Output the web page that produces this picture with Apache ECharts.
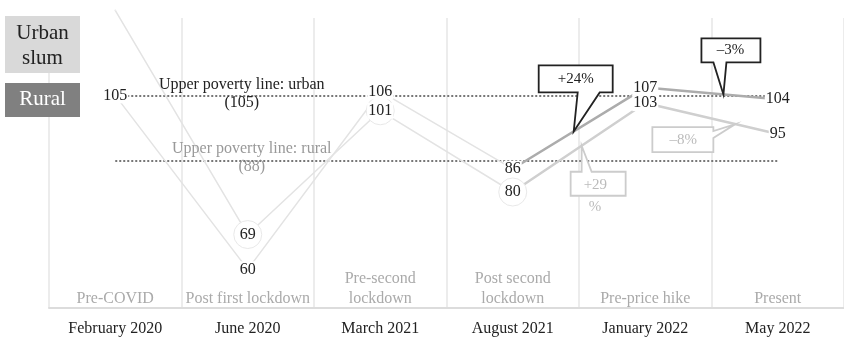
<!DOCTYPE html>
<html lang="en">
<head>
<meta charset="UTF-8">
<title>Poverty line</title>
<style>
  body { margin: 0; background: #fff; }
  #main { width: 844px; height: 338px; }
</style>
</head>
<body>
<div id="main"></div>
<script src="https://cdn.jsdelivr.net/npm/echarts@6/dist/echarts.min.js"></script>
<script>
var months = ['February 2020', 'June 2020', 'March 2021', 'August 2021', 'January 2022', 'May 2022'];
var phases = ['Pre-COVID', 'Post first lockdown', 'Pre-second\nlockdown', 'Post second\nlockdown', 'Pre-price hike', 'Present'];
var rural = [105, 60, 106, 86, 107, 104];
var urbanSlum = [127, 69, 101, 80, 103, 95];
var povertyUrban = 105;
var povertyRural = 88;
var splitAt = 3; // from August 2021 on the lines are drawn darker
var circled = [1, 2, 3]; // urban points that get a ring

var serif = 'Liberation Serif';

function early(arr) { return arr.map(function (v, i) { return i <= splitAt ? v : '-'; }); }
function late(arr) { return arr.map(function (v, i) { return i >= splitAt ? v : '-'; }); }

function valueLabel(skip) {
    return {
        show: true, position: 'inside', color: '#222',
        fontFamily: serif, fontSize: 16,
        backgroundColor: '#fff', padding: [0, 1],
        formatter: function (p) { return p.dataIndex === skip ? '' : p.value; }
    };
}
// labels need a symbol to hang on, so use an invisible one
var hidden = { symbol: 'circle', symbolSize: 1, showSymbol: true, itemStyle: { color: 'rgba(0,0,0,0)' } };

var chart = echarts.init(document.getElementById('main'));
chart.setOption({
    animation: false,
    grid: { left: 49, right: -3, top: 18, bottom: 30 },
    xAxis: [{
        type: 'category',
        data: months,
        boundaryGap: true,
        axisLine: { lineStyle: { color: '#dcdcdc', width: 2 } },
        axisTick: { show: false },
        axisLabel: { color: '#222', fontFamily: serif, fontSize: 16, margin: 13, interval: 0 },
        splitLine: { show: true, interval: 0, lineStyle: { color: '#e6e6e6', width: 1.5 } }
    }, {
        type: 'category',
        data: phases,
        position: 'bottom',
        boundaryGap: true,
        axisLine: { show: false },
        axisTick: { show: false },
        splitLine: { show: false },
        axisLabel: {
            inside: true, interval: 0, margin: -1,
            color: '#aaa', fontFamily: serif, fontSize: 16, lineHeight: 20
        }
    }],
    yAxis: { type: 'value', min: 50, max: 125, show: false, splitLine: { show: false } },
    series: [Object.assign({
        name: 'Rural',
        type: 'line',
        data: early(rural),
        lineStyle: { color: '#e3e3e3', width: 1.5 },
        label: valueLabel(-1),
        z: 3,
        markLine: {
            silent: true, symbol: 'none', z: 2,
            label: { show: false },
            lineStyle: { color: '#777', width: 2, type: [2, 2] },
            data: [
                [{ coord: [months[0], povertyUrban] }, { coord: [months[5], povertyUrban] }],
                [{ coord: [months[0], povertyRural] }, { coord: [months[5], povertyRural] }]
            ]
        },
        markPoint: {
            silent: true, symbol: 'rect', symbolSize: 1,
            itemStyle: { color: 'rgba(0,0,0,0)' },
            data: [{
                coord: [months[1], povertyUrban],
                label: {
                    show: true, position: 'inside', offset: [-6, -2],
                    formatter: 'Upper poverty line: urban\n(' + povertyUrban + ')',
                    color: '#222', fontFamily: serif, fontSize: 16, lineHeight: 18
                }
            }, {
                coord: [months[1], povertyRural],
                label: {
                    show: true, position: 'inside', offset: [4, -3],
                    formatter: 'Upper poverty line: rural\n(' + povertyRural + ')',
                    color: '#999', fontFamily: serif, fontSize: 16, lineHeight: 18
                }
            }]
        }
    }, hidden), {
        name: 'Urban slum',
        type: 'line',
        data: early(urbanSlum),
        clip: false,
        symbol: 'circle',
        symbolSize: function (v, p) { return circled.indexOf(p.dataIndex) >= 0 ? 28 : 1; },
        showSymbol: true,
        itemStyle: { color: '#fff', borderColor: '#e8e8e8', borderWidth: 1 },
        lineStyle: { color: '#e3e3e3', width: 1.5 },
        label: valueLabel(0),
        z: 3
    }, Object.assign({
        name: 'Rural',
        type: 'line',
        data: late(rural),
        lineStyle: { color: '#acacac', width: 2.5 },
        label: valueLabel(splitAt),
        z: 3
    }, hidden), Object.assign({
        name: 'Urban slum',
        type: 'line',
        data: late(urbanSlum),
        lineStyle: { color: '#cfcfcf', width: 2.5 },
        label: valueLabel(splitAt),
        z: 3
    }, hidden)]
});

// callouts, anchored on the line segments they describe
function px(i, v) { return chart.convertToPixel({ seriesIndex: 0 }, [i, v]); }
function along(arr, i, t) {
    var a = px(i, arr[i]), b = px(i + 1, arr[i + 1]);
    return [a[0] + (b[0] - a[0]) * t, a[1] + (b[1] - a[1]) * t];
}
function poly(T, pts, stroke) {
    return {
        type: 'polygon', z: 100,
        shape: { points: pts.map(function (p) { return [T[0] + p[0], T[1] + p[1]]; }) },
        style: { fill: '#fff', stroke: stroke, lineWidth: 1.8 }
    };
}
function txt(x, y, s, color, align) {
    return {
        type: 'text', z: 101, x: x, y: y,
        style: {
            text: s, fill: color, font: '15px ' + serif,
            align: align || 'center', textAlign: align || 'center',
            verticalAlign: 'middle', textVerticalAlign: 'middle'
        }
    };
}

var t1 = along(rural, 3, 0.46);
var t2 = along(rural, 4, 0.59);
var t3 = along(urbanSlum, 3, 0.52);
var t4 = along(urbanSlum, 4, 0.68);

var graphics = [
    { type: 'rect', z: 100, shape: { x: 5, y: 16, width: 75, height: 57 }, style: { fill: '#d9d9d9' } },
    { type: 'text', z: 101, x: 42.5, y: 45.5, style: { text: 'Urban\nslum', fill: '#222', font: '21px ' + serif, lineHeight: 25, align: 'center', textAlign: 'center', verticalAlign: 'middle', textVerticalAlign: 'middle' } },
    { type: 'rect', z: 100, shape: { x: 5, y: 83, width: 75, height: 34 }, style: { fill: '#808080' } },
    { type: 'text', z: 101, x: 42.5, y: 99, style: { text: 'Rural', fill: '#fff', font: '21px ' + serif, align: 'center', textAlign: 'center', verticalAlign: 'middle', textVerticalAlign: 'middle' } },

    poly(t1, [[-35, -66], [39, -66], [39, -39], [26, -39], [0, 0], [4, -39], [-35, -39]], '#222'),
    txt(t1[0] + 2, t1[1] - 52, '+24%', '#222'),

    poly(t2, [[-22, -56], [37, -56], [37, -32], [3, -32], [0, 0], [-10, -32], [-22, -32]], '#222'),
    txt(t2[0] + 7, t2[1] - 44, '\u20133%', '#222'),

    poly(t3, [[-11, 26], [0, 26], [0, 0], [10, 26], [44, 26], [44, 50], [-11, 50]], '#cccccc'),
    txt(t3[0] + 2, t3[1] + 39, '+29', '#bbb', 'left'),
    txt(t3[0] + 7, t3[1] + 61, '%', '#bbb', 'left'),

    poly(t4, [[-83, 3], [-22, 3], [-22, 7], [0, 0], [-22, 14], [-22, 28], [-83, 28]], '#cccccc'),
    txt(t4[0] - 52, t4[1] + 16, '\u20138%', '#bbb')
];
chart.setOption({ graphic: graphics });
</script>
</body>
</html>
